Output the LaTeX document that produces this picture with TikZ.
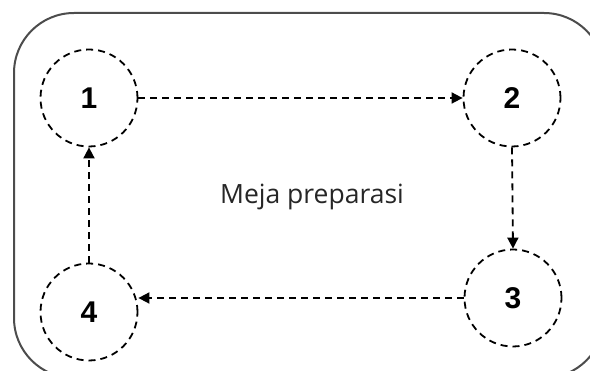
\documentclass[tikz,border=0pt]{standalone}
\usepackage{fontspec}
\setmainfont{Open Sans}
\newfontfamily\numfont{Liberation Sans}
\usetikzlibrary{arrows.meta}
\begin{document}
\begin{tikzpicture}[x=1pt,y=-1pt,
  station/.style={circle,draw,line width=1.8pt,dash pattern=on 7pt off 5pt,minimum size=97pt,inner sep=0pt,font=\numfont\bfseries\fontsize{30}{30}\selectfont},
  flow/.style={line width=1.8pt,dash pattern=on 7pt off 5pt,-{Triangle[length=11pt,width=11pt]}}]
\useasboundingbox (0,0) rectangle (590,371);
\draw[line width=2pt,draw=black!70,rounded corners=60pt] (14,13) rectangle (604,378);
\node[station] (n1) at (89,98) {1};
\node[station] (n2) at (512,98) {2};
\node[station] (n3) at (513,298) {3};
\node[station] (n4) at (89,312) {4};
\node[font=\fontsize{26.5}{26.5}\selectfont,text=black!85] (lbl) at (312,197) {Meja preparasi};
\draw[flow] (n1.east) -- (n2.west);
\draw[flow] (n2.south) -- (n3.north);
\draw[flow] (n3.west) -- (n3.west -| n4.east);
\draw[flow] (n4.north) -- (n1.south);
\end{tikzpicture}
\end{document}
